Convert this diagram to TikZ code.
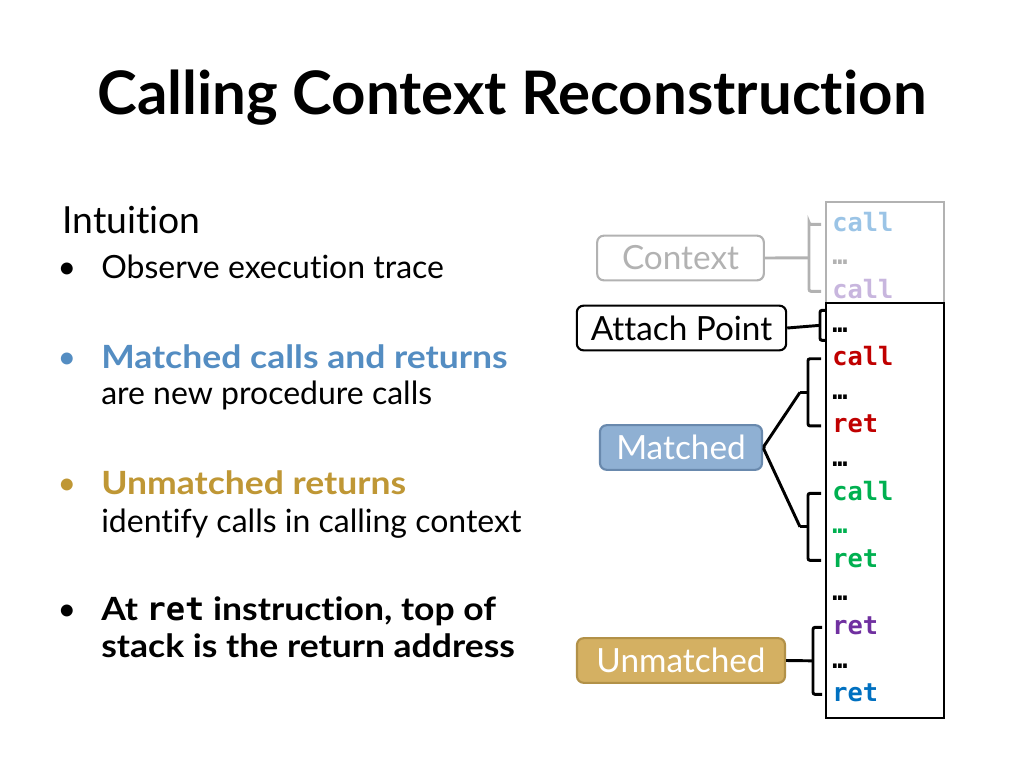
\documentclass[tikz,border=0pt]{standalone}
\usepackage{fontspec}
\setmainfont{Lato}[Ligatures={NoCommon,NoRare},BoldFeatures={FakeStretch=1.11}]
\newfontfamily\titlefont{Lato}[Ligatures={NoCommon,NoRare}]
\setmonofont{DejaVu Sans Mono}
\usetikzlibrary{positioning,calc}
\definecolor{matchblue}{RGB}{84,141,194}
\definecolor{matchfill}{RGB}{143,176,211}
\definecolor{matchline}{RGB}{105,137,173}
\definecolor{unmgold}{RGB}{191,151,53}
\definecolor{unmfill}{RGB}{212,176,98}
\definecolor{unmline}{RGB}{178,145,72}
\definecolor{ctxgray}{RGB}{178,178,178}
\definecolor{ctxcall}{RGB}{155,196,230}
\definecolor{ctxcalltwo}{RGB}{200,182,222}
\definecolor{cred}{RGB}{192,0,0}
\definecolor{cgreen}{RGB}{0,176,80}
\definecolor{cpurple}{RGB}{112,48,160}
\definecolor{cblue}{RGB}{0,112,192}

\begin{document}
\begin{tikzpicture}[x=0.75pt,y=-0.75pt,
  txt/.style={anchor=base west,inner sep=0pt,font=\fontsize{24}{28}\selectfont},
  bul/.style={anchor=base,inner sep=0pt,font=\fontsize{24}{28}\selectfont},
  entry/.style={anchor=base west,inner sep=0pt,text height=10pt,text depth=0pt,font=\ttfamily\bfseries\fontsize{19}{21}\selectfont},
  tag/.style={rounded corners=5pt,line width=1.6pt,inner sep=0pt,minimum height=33.5pt,font=\fontsize{25}{28}\selectfont},
  link/.style={draw=black,line width=2.2pt,rounded corners=1.5pt}]
\useasboundingbox (0,0) rectangle (1024,768);

% title and bullets
\node[font=\titlefont\bfseries\fontsize{45}{50}\selectfont] (title) at (512,98) {Calling Context Reconstruction};
\node[txt,font=\fontsize{28}{32}\selectfont] (intu) at (62,233) {Intuition};
\node[bul] (b1) at (67,278) {•};
\node[txt] (t1) at (101,278) {Observe execution trace};
\node[bul,text=matchblue] (b2) at (67,368) {•};
\node[txt,text=matchblue,font=\bfseries\fontsize{24}{28}\selectfont] (t2) at (101,368) {Matched calls and returns};
\node[txt] (t2b) at (101,404) {are new procedure calls};
\node[bul,text=unmgold] (b3) at (67,494) {•};
\node[txt,text=unmgold,font=\bfseries\fontsize{24}{28}\selectfont] (t3) at (101,494) {Unmatched returns};
\node[txt] (t3b) at (101,532) {identify calls in calling context};
\node[bul] (b4) at (67,620) {•};
\node[txt,font=\bfseries\fontsize{24}{28}\selectfont] (t4) at (101,620) {At \texttt{ret} instruction, top of};
\node[txt,font=\bfseries\fontsize{24}{28}\selectfont] (t4b) at (101,657) {stack is the return address};

% the stack
\draw[ctxgray,line width=1.9pt] (826,304) -- (826,202) -- (944,202) -- (944,304);
\draw[black,line width=1.9pt] (826,303) rectangle (944,718);
\node[entry,text=ctxcall] (e1) at (832,231) {call};
\node[entry,text=ctxgray] (e2) at (832,264.6) {…};
\node[entry,text=ctxcalltwo] (e3) at (832,298) {call};
\node[entry] (e4) at (832,332) {…};
\node[entry,text=cred] (e5) at (832,365.4) {call};
\node[entry] (e6) at (832,399) {…};
\node[entry,text=cred] (e7) at (832,432.6) {ret};
\node[entry] (e8) at (832,466) {…};
\node[entry,text=cgreen] (e9) at (832,500) {call};
\node[entry,text=cgreen] (e10) at (832,533.4) {…};
\node[entry,text=cgreen] (e11) at (832,567) {ret};
\node[entry] (e12) at (832,600.6) {…};
\node[entry,text=cpurple] (e13) at (832,634) {ret};
\node[entry] (e14) at (832,668) {…};
\node[entry,text=cblue] (e15) at (832,701) {ret};

% labels
\node[tag,draw=ctxgray,text=ctxgray,minimum width=125pt] (context) at (680.5,258) {Context};
\node[tag,draw=black,minimum width=157pt] (attach) at (681.5,328) {Attach Point};
\node[tag,draw=matchline,fill=matchfill,text=white,minimum width=121.5pt] (matched) at (681,447.5) {Matched};
\node[tag,draw=unmline,fill=unmfill,text=white,minimum width=156pt] (unmatched) at (681,660.5) {Unmatched};

% brackets and links
\coordinate (ctxmid) at ($(e1.west)!0.5!(e3.west)+(-23,0)$);
\draw[link,draw=ctxgray] ($(e1.west)+(-11,0)$) -| ($(e1.west)+(-23,0)$) -- ($(e3.west)+(-23,0)$) -- ($(e3.west)+(-11,0)$);
\draw[link,draw=ctxgray] (context.east) -- (ctxmid);
\coordinate (attmid) at ($(e4.west)+(-12,0)$);
\draw[link] ($(e4.west)+(-6,-15)$) -- ($(e4.west)+(-12,-15)$) -- ($(e4.west)+(-12,15)$) -- ($(e4.west)+(-6,15)$);
\draw[link] (attach.east) -- (attmid);
\coordinate (mtop) at ($(e5.west)!0.5!(e7.west)+(-24,0)$);
\draw[link] ($(e5.west)+(-11,0)$) -- ($(e5.west)+(-24,0)$) -- ($(e7.west)+(-24,0)$) -- ($(e7.west)+(-11,0)$);
\draw[link] ($(mtop)+(-8,0)$) -- (mtop);
\coordinate (mbot) at ($(e9.west)!0.5!(e11.west)+(-24,0)$);
\draw[link] ($(e9.west)+(-11,0)$) -- ($(e9.west)+(-24,0)$) -- ($(e11.west)+(-24,0)$) -- ($(e11.west)+(-11,0)$);
\draw[link] ($(mbot)+(-8,0)$) -- (mbot);
\draw[link] ($(mtop)+(-8,0)$) -- (matched.east) -- ($(mbot)+(-8,0)$);
\coordinate (umid) at ($(e13.west)!0.5!(e15.west)+(-19,0)$);
\draw[link] ($(e13.west)+(-10,0)$) -- ($(e13.west)+(-19,0)$) -- ($(e15.west)+(-19,0)$) -- ($(e15.west)+(-10,0)$);
\draw[link] (unmatched.east) -- (umid);
\end{tikzpicture}
\end{document}
